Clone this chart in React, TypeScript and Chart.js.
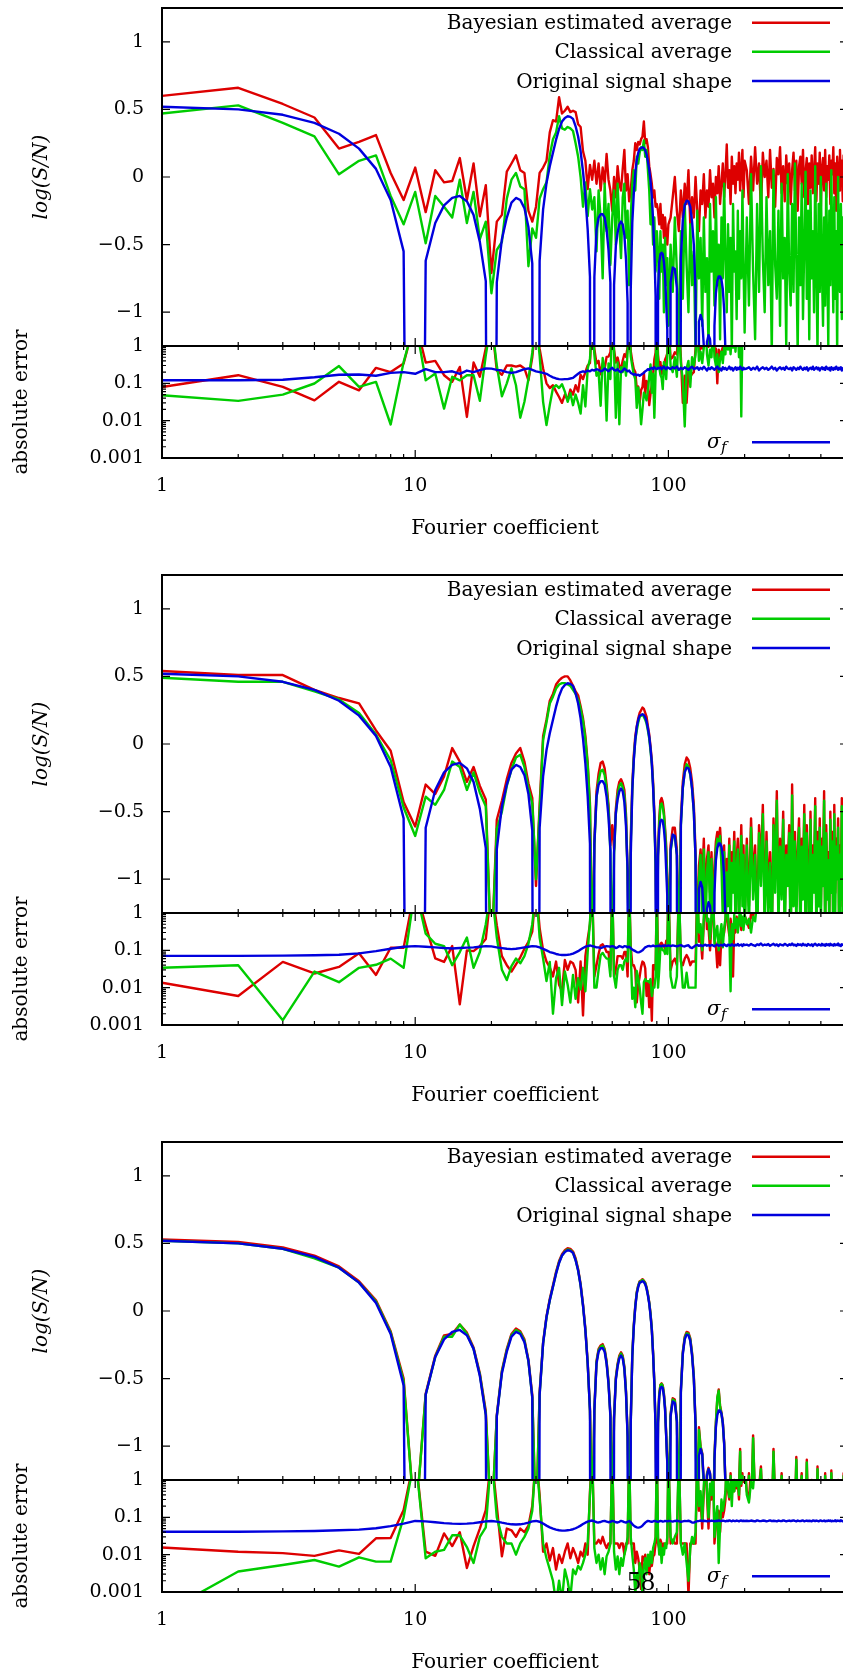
import React, { useEffect, useRef } from 'react';
import { Chart, registerables } from 'chart.js';

Chart.register(...registerables);

const RED = '#dd0000';
const GREEN = '#00cc00';
const BLUE = '#0000dd';
const FONT = "'DejaVu Serif', serif";

// Fourier coefficient indices used for the sampled series
const COEFFS: number[] = [
  ...Array.from({ length: 100 }, (_, i) => i + 1),
  ...Array.from({ length: 50 }, (_, i) => 102 + 2 * i),
  ...Array.from({ length: 78 }, (_, i) => 204 + 4 * i),
];
const X_MIN = 1;
const X_MAX = 512;
const X_TICKS = [1, 10, 100];
const X_TICK_LABELS = ['1', '10', '100'];
const UPPER_Y_TICKS = [-1, -0.5, 0, 0.5, 1];
const UPPER_Y_LABELS = ['\u22121', '\u22120.5', '0', '0.5', '1'];
const LOWER_Y_TICKS = [0.001, 0.01, 0.1, 1];
const LOWER_Y_LABELS = ['0.001', '0.01', '0.1', '1'];
const LEGEND_UPPER = ['Bayesian estimated average', 'Classical average', 'Original signal shape'];
const SIGMA_LABEL = 'σ_f';
const PAGE_NUMBER = '58';

// Original signal shape, log(S/N)  (k = 1..100, then 102..170 step 2)
const SIGNAL = [
  0.52, 0.50, 0.46, 0.40, 0.32, 0.21, 0.06, -0.17, -0.55, -10,
  -0.62, -0.34, -0.21, -0.155, -0.14, -0.18, -0.28, -0.48, -0.77, -10,
  -0.78, -0.46, -0.30, -0.19, -0.155, -0.17, -0.23, -0.37, -0.64, -10,
  -0.62, -0.24, -0.045, 0.08, 0.18, 0.276, 0.355, 0.41, 0.437, 0.449,
  0.445, 0.43, 0.375, 0.30, 0.19, 0.04, -0.145, -0.39, -0.74, -10,
  -0.74, -0.39, -0.30, -0.275, -0.275, -0.30, -0.39, -0.54, -0.78, -10,
  -0.80, -0.51, -0.41, -0.35, -0.33, -0.35, -0.43, -0.61, -0.93, -10,
  -0.83, -0.34, -0.12, 0.03, 0.128, 0.178, 0.21, 0.214, 0.22, 0.214,
  0.197, 0.165, 0.115, 0.054, -0.033, -0.144, -0.32, -0.54, -0.88, -10,
  -0.83, -0.63, -0.57, -0.56, -0.57, -0.63, -0.73, -0.93, -1.13, -10,
  -0.78, -0.67, -0.68, -0.82, -10,
  -0.60, -0.32, -0.21, -0.175, -0.18, -0.22, -0.33, -0.50, -0.85, -10,
  -1.07, -1.02, -1.06, -1.25, -10,
  -1.22, -1.17, -1.20, -1.35, -10,
  -1.10, -0.86, -0.77, -0.735, -0.735, -0.76, -0.83, -0.98, -1.30, -10,
];

// ---------- Panel 1 ----------
const BAYES_1 = [
  0.60, 0.66, 0.54, 0.44, 0.21, 0.26, 0.31, 0.03, -0.17, 0.07,
  -0.26, 0.05, -0.04, -0.03, 0.14, -0.17, 0.10, -0.29, -0.06, -0.71,
  -0.33, -0.28, 0.04, 0.10, 0.16, 0.05, 0.03, -0.25, -0.33, -0.22,
  0.03, 0.07, 0.12, 0.33, 0.42, 0.41, 0.59, 0.47, 0.49, 0.52,
  0.48, 0.49, 0.48, 0.39, 0.37, 0.19, 0.12, -0.09, 0.09, -0.02,
  0.12, -0.05, 0.10, -0.10, 0.07, -0.05, 0.17, -0.02, -0.10, -0.25,
  0.00, -0.15, 0.08, -0.05, -0.10, 0.06, 0.20, -0.10, 0.02, -0.18,
  -0.10, 0.05, 0.12, 0.25, 0.20, 0.26, 0.24, 0.28, 0.30, 0.41,
  0.25, 0.28, 0.22, 0.08, 0.02, -0.05, -0.15, -0.10, -0.22, -0.20,
  -0.25, -0.35, -0.20, -0.38, -0.28, -0.45, -0.30, -0.42, -0.50, -0.35,
  -0.30, -0.15, 0.00, -0.25, -0.40, -0.10, -0.30, -0.05, -0.20, 0.05,
  -0.35, -0.15, -0.30, 0.00, -0.25, -0.40, -0.10, -0.20, 0.02, -0.30,
  -0.10, -0.22, 0.05, -0.15, -0.05, -0.30, 0.00, -0.12, 0.08, -0.20,
  -0.05, 0.10, -0.15, 0.02, 0.24, -0.08, 0.05, -0.20, 0.15, -0.05,
  0.08, -0.12, 0.10, -0.02, 0.18, -0.10, 0.05, 0.20, -0.15, 0.12,
  0.05, -0.20, 0.15, -0.10, 0.22, -0.05, 0.10, -0.25, 0.18, 0.00,
  0.12, -0.15, 0.20, -0.08, 0.06, -0.22, 0.14, 0.02, 0.22, -0.12,
  0.08, -0.18, 0.16, -0.05, 0.10, -0.20, 0.05, 0.18, -0.10, 0.12,
  -0.25, 0.08, 0.15, -0.05, 0.20, -0.15, 0.04, 0.14, -0.20, 0.10,
  -0.08, 0.16, -0.12, 0.05, 0.22, -0.18, 0.10, -0.05, 0.18, -0.22,
  0.06, 0.14, -0.10, 0.20, -0.15, 0.08, -0.02, 0.16, -0.20, 0.12,
  0.02, 0.22, -0.12, 0.10, -0.25, 0.15, 0.05, -0.10, 0.20, -0.05,
  0.12, -0.18, 0.16, 0.00, 0.24, -0.10, 0.08, 0.18,
];
const CLASSIC_1 = [
  0.47, 0.53, 0.40, 0.30, 0.02, 0.12, 0.16, -0.14, -0.35, -0.11,
  -0.49, -0.14, -0.22, -0.30, -0.02, -0.34, -0.11, -0.46, -0.33, -0.86,
  -0.54, -0.48, -0.16, -0.02, 0.03, -0.07, -0.09, -0.66, -0.38, -0.45,
  -0.16, -0.09, -0.04, 0.16, 0.28, 0.33, 0.45, 0.36, 0.35, 0.37,
  0.36, 0.34, 0.25, 0.15, 0.00, -0.22, -0.04, -0.29, -0.09, -0.24,
  -0.15, -0.55, -0.10, -0.30, -0.75, -0.05, -0.40, -0.20, -0.65, -0.30,
  -0.10, -0.50, -0.05, -0.35, -0.60, -0.15, -0.05, -0.45, -0.25, -0.80,
  -0.30, -0.05, 0.05, -0.10, 0.15, 0.10, 0.18, 0.22, 0.20, 0.27,
  0.15, 0.20, 0.05, -0.10, -0.35, -0.20, -0.50, -0.30, -0.70, -0.40,
  -0.55, -0.90, -0.40, -0.70, -0.50, -1.00, -0.45, -0.80, -0.60, -1.10,
  -0.50, -0.85, -0.30, -0.70, -1.30, -0.40, -0.90, -0.20, -0.65, -1.00,
  -0.35, -0.80, -0.55, -1.30, -0.25, -0.75, -0.45, -1.10, -0.30, -0.85,
  -0.60, -1.30, -0.20, -0.70, -0.40, -0.95, -0.15, -0.80, -0.50, -1.20,
  -0.30, -0.75, -0.05, -0.60, -1.00, -0.35, -0.85, -0.45, -1.30, -0.20,
  -0.70, -0.55, -1.05, -0.25, -0.90, -0.40, -0.75, -0.10, -0.65, -1.15,
  -0.30, -0.95, 0.02, -0.70, -1.20, -0.20, -0.85, 0.08, -0.60, -1.00,
  -0.15, -0.80, -0.40, -1.30, 0.05, -0.65, -0.90, -0.25, -1.10, -0.05,
  -0.75, -0.45, -1.25, 0.02, -0.70, -0.95, -0.20, -0.85, 0.10, -0.60,
  -1.30, -0.30, -0.80, -0.05, -1.05, -0.50, 0.04, -0.90, -0.25, -1.20,
  -0.10, -0.75, -0.40, -1.00, 0.08, -0.65, -1.30, -0.20, -0.85, 0.00,
  -0.70, -1.10, -0.30, -0.95, -0.05, -0.60, -1.25, -0.25, -0.80, 0.05,
  -0.55, -1.00, -0.15, -0.90, -0.40, -1.30, 0.00, -0.70, -0.85, -0.20,
  -1.05, -0.30, -0.75, 0.08, -0.95, -0.45, -1.20, -0.15,
];
const BAYES_ERR_1 = [
  0.080, 0.165, 0.080, 0.035, 0.11, 0.065, 0.26, 0.20, 0.34, 5,
  0.36, 0.40, 0.165, 0.11, 0.275, 0.0126, 0.36, 0.15, 0.87, 5,
  0.22, 0.17, 0.30, 0.30, 0.28, 0.30, 0.25, 0.12, 0.50, 5,
  0.85, 0.25, 0.10, 0.075, 0.089, 0.06, 0.043, 0.03, 0.05, 0.037,
  0.068, 0.05, 0.089, 0.06, 0.17, 0.13, 0.20, 0.30, 0.35, 5,
  0.84, 0.34, 0.40, 0.175, 0.345, 0.25, 0.51, 0.52, 0.68, 5,
  0.80, 0.36, 0.49, 0.30, 0.23, 0.41, 0.60, 0.51, 0.95, 5,
  0.73, 0.39, 0.24, 0.20, 0.072, 0.082, 0.03, 0.066, 0.08, 0.196,
  0.053, 0.115, 0.105, 0.026, 0.053, 0.094, 0.17, 0.44, 0.66, 5,
  0.58, 0.28, 0.37, 0.18, 0.29, 0.18, 0.43, 0.51, 0.63, 5,
  0.45, 0.50, 0.68, 0.60, 5,
  0.50, 0.03, 0.16, 0.03, 0.23, 0.15, 0.18, 0.20, 0.85, 5,
  0.67, 0.92, 0.86, 1.27, 5,
  1.10, 0.95, 1.25, 1.20, 5,
  0.80, 0.86, 0.10, 0.80, 0.54, 0.71, 0.93, 0.83, 1.32, 5,
  5,
];
const CLASSIC_ERR_1 = [
  0.048, 0.034, 0.050, 0.099, 0.29, 0.080, 0.109, 0.0079, 0.37, 5,
  0.12, 0.183, 0.021, 0.15, 0.12, 0.165, 0.165, 0.034, 0.56, 5,
  0.30, 0.045, 0.10, 0.25, 0.089, 0.012, 0.032, 0.13, 0.66, 5,
  0.55, 0.032, 0.0076, 0.026, 0.075, 0.089, 0.075, 0.095, 0.06, 0.032,
  0.055, 0.026, 0.05, 0.03, 0.0155, 0.089, 0.024, 0.25, 0.45, 5,
  0.59, 0.16, 0.20, 0.025, 0.475, 0.25, 0.01, 0.34, 0.13, 5,
  0.70, 0.012, 0.36, 0.008, 0.27, 0.20, 0.38, 0.16, 0.68, 5,
  0.53, 0.29, 0.17, 0.13, 0.022, 0.078, 0.03, 0.008, 0.02, 0.056,
  0.047, 0.035, 0.065, 0.154, 0.32, 0.056, 0.18, 0.012, 0.18, 5,
  0.28, 0.27, 0.17, 0.14, 0.07, 0.37, 0.28, 0.13, 0.53, 5,
  0.30, 0.20, 0.50, 0.15, 5,
  0.35, 0.12, 0.007, 0.25, 0.40, 0.08, 0.50, 0.30, 0.60, 5,
  0.40, 0.70, 0.35, 0.90, 5,
  0.60, 0.30, 0.80, 0.50, 5,
  0.50, 0.30, 0.60, 0.20, 0.45, 0.70, 0.35, 0.90, 0.60, 5,
  0.80, 2, 0.60, 2, 0.90, 3, 0.70, 2, 3, 0.50, 3, 0.013, 3, 2, 5,
];
const SIGMA_1 = [
  0.121, 0.121, 0.125, 0.145, 0.17, 0.172, 0.16, 0.19, 0.20, 0.18,
  0.24, 0.20, 0.20, 0.21, 0.18, 0.22, 0.20, 0.225, 0.25, 0.248,
  0.23, 0.22, 0.20, 0.19, 0.20, 0.22, 0.24, 0.25, 0.23, 0.21,
  0.20, 0.19, 0.18, 0.16, 0.145, 0.135, 0.13, 0.128, 0.13, 0.13,
  0.135, 0.14, 0.16, 0.18, 0.20, 0.21, 0.20, 0.22, 0.21, 0.23,
  0.22, 0.24, 0.23, 0.21, 0.22, 0.25, 0.23, 0.21, 0.24, 0.26,
  0.23, 0.22, 0.24, 0.21, 0.20, 0.22, 0.25, 0.23, 0.21, 0.22,
  0.19, 0.18, 0.17, 0.175, 0.165, 0.17, 0.16, 0.17, 0.18, 0.19,
  0.21, 0.22, 0.24, 0.23, 0.25, 0.26, 0.24, 0.27, 0.25, 0.24,
  0.26, 0.25, 0.27, 0.24, 0.26, 0.28, 0.25, 0.24, 0.27, 0.26,
  0.24, 0.27, 0.25, 0.28, 0.23, 0.26, 0.24, 0.27, 0.25, 0.23,
  0.26, 0.28, 0.24, 0.25, 0.27, 0.23, 0.26, 0.24, 0.28, 0.25,
  0.22, 0.26, 0.24, 0.27, 0.25, 0.23, 0.26, 0.28, 0.24, 0.25,
  0.22, 0.27, 0.24, 0.26, 0.23, 0.25, 0.28, 0.24, 0.26, 0.22,
  0.25, 0.27, 0.23, 0.26, 0.24, 0.28, 0.25, 0.23, 0.26, 0.24,
  0.25, 0.27, 0.23, 0.26, 0.24, 0.28, 0.22, 0.25, 0.27, 0.24,
  0.26, 0.23, 0.25, 0.28, 0.24, 0.26, 0.22, 0.25, 0.27, 0.24,
  0.26, 0.23, 0.28, 0.25, 0.24, 0.26, 0.22, 0.27, 0.25, 0.23,
  0.26, 0.24, 0.28, 0.25, 0.23, 0.26, 0.24, 0.27, 0.22, 0.25,
  0.26, 0.24, 0.28, 0.23, 0.25, 0.27, 0.24, 0.26, 0.22, 0.25,
  0.27, 0.24, 0.26, 0.23, 0.28, 0.25, 0.24, 0.26, 0.22, 0.27,
  0.25, 0.23, 0.26, 0.24, 0.28, 0.25, 0.23, 0.26, 0.24, 0.27,
  0.22, 0.25, 0.26, 0.24, 0.28, 0.23, 0.25, 0.26,
];

// ---------- Panel 2 ----------
const BAYES_2 = [
  0.54, 0.51, 0.51, 0.40, 0.34, 0.30, 0.10, -0.05, -0.43, -0.61,
  -0.30, -0.37, -0.24, -0.03, -0.13, -0.28, -0.17, -0.31, -0.41, -1.60,
  -0.56, -0.42, -0.26, -0.14, -0.07, -0.03, -0.13, -0.29, -0.40, -1.05,
  -0.45, 0.06, 0.18, 0.32, 0.37, 0.44, 0.47, 0.49, 0.50, 0.50,
  0.47, 0.43, 0.39, 0.36, 0.28, 0.19, 0.06, -0.14, -0.44, -1.60,
  -0.72, -0.35, -0.22, -0.14, -0.13, -0.18, -0.30, -0.45, -0.75, -0.60,
  -0.78, -0.48, -0.34, -0.28, -0.26, -0.29, -0.34, -0.52, -0.95, -1.60,
  -0.70, -0.30, -0.08, 0.06, 0.13, 0.19, 0.23, 0.25, 0.27, 0.26,
  0.23, 0.20, 0.13, 0.07, -0.02, -0.12, -0.28, -0.50, -0.85, -1.60,
  -0.78, -0.55, -0.42, -0.40, -0.43, -0.50, -0.62, -0.75, -1.00, -1.60,
  -0.75, -0.62, -0.62, -0.78, -1.60,
  -0.55, -0.28, -0.15, -0.10, -0.12, -0.18, -0.28, -0.45, -0.80, -1.50,
  -0.90, -0.78, -1.00, -0.70, -1.20,
  -0.85, -0.75, -1.10, -0.80, -1.30,
  -0.90, -0.72, -0.65, -0.70, -0.62, -0.80, -1.10, -0.75, -1.30, -0.85,
  -1.00, -0.70, -1.20, -0.80, -0.95, -0.65, -1.15, -0.85, -0.70, -1.25, -0.90, -0.60, -1.00, -0.75, -1.30,
  -0.70, -1.20, -0.55, -1.00, -0.75, -1.35, -0.60, -0.90, -0.45, -1.25,
  -0.65, -1.10, -0.80, -1.40, -0.55, -0.95, -0.35, -1.20, -0.70, -1.00,
  -0.50, -1.30, -0.75, -0.90, -0.60, -1.45, -0.30, -1.05, -0.65, -1.20,
  -0.80, -0.55, -1.35, -0.70, -1.00, -0.45, -1.25, -0.60, -0.85, -1.40,
  -0.50, -1.10, -0.75, -0.95, -0.40, -1.30, -0.65, -1.05, -0.55, -1.20,
  -0.70, -0.90, -0.35, -1.35, -0.60, -1.00, -0.80, -1.25, -0.50, -0.95,
  -0.65, -1.40, -0.45, -1.10, -0.70, -0.85, -0.55, -1.30, -0.75, -1.00,
  -0.40, -1.20, -0.65, -0.90, -0.50, -1.35, -0.70, -1.05,
];
const CLASSIC_2 = [
  0.49, 0.46, 0.46, 0.39, 0.33, 0.23, 0.07, -0.12, -0.47, -0.68,
  -0.39, -0.45, -0.34, -0.13, -0.17, -0.34, -0.21, -0.36, -0.46, -1.60,
  -0.63, -0.50, -0.31, -0.19, -0.10, -0.08, -0.17, -0.33, -0.44, -1.00,
  -0.50, 0.03, 0.16, 0.30, 0.35, 0.41, 0.44, 0.45, 0.45, 0.44,
  0.43, 0.40, 0.37, 0.33, 0.26, 0.17, 0.03, -0.16, -0.47, -1.60,
  -0.75, -0.40, -0.27, -0.20, -0.19, -0.23, -0.33, -0.48, -0.80, -1.60,
  -0.82, -0.52, -0.38, -0.31, -0.29, -0.32, -0.38, -0.55, -0.98, -1.60,
  -0.75, -0.34, -0.11, 0.03, 0.10, 0.16, 0.20, 0.21, 0.22, 0.20,
  0.18, 0.15, 0.10, 0.04, -0.05, -0.15, -0.31, -0.55, -0.90, -1.60,
  -0.82, -0.60, -0.45, -0.44, -0.47, -0.53, -0.65, -0.80, -1.05, -1.60,
  -0.80, -0.68, -0.68, -0.82, -1.60,
  -0.60, -0.33, -0.20, -0.15, -0.17, -0.23, -0.33, -0.50, -0.85, -1.60,
  -1.00, -0.82, -1.30, -0.78, -1.40,
  -0.95, -0.80, -1.25, -0.85, -1.50,
  -1.00, -0.78, -0.70, -0.75, -0.68, -0.90, -1.30, -0.80, -1.50, -0.95,
  -1.20, -0.75, -1.40, -0.88, -1.10, -0.72, -1.35, -0.92, -0.78, -1.45, -1.00, -0.68, -1.20, -0.82, -1.50,
  -0.75, -1.35, -0.62, -1.15, -0.82, -1.50, -0.66, -1.05, -0.52, -1.40,
  -0.72, -1.25, -0.88, -1.55, -0.60, -1.10, -0.42, -1.35, -0.76, -1.15,
  -0.56, -1.45, -0.82, -1.05, -0.66, -1.60, -0.38, -1.20, -0.72, -1.35,
  -0.86, -0.62, -1.50, -0.76, -1.15, -0.52, -1.40, -0.66, -1.00, -1.55,
  -0.56, -1.25, -0.82, -1.10, -0.46, -1.45, -0.72, -1.20, -0.62, -1.35,
  -0.76, -1.05, -0.42, -1.50, -0.66, -1.15, -0.86, -1.40, -0.56, -1.10,
  -0.72, -1.55, -0.52, -1.25, -0.76, -1.00, -0.62, -1.45, -0.82, -1.15,
  -0.46, -1.35, -0.72, -1.05, -0.56, -1.50, -0.76, -1.20,
];
const BAYES_ERR_2 = [
  0.0135, 0.006, 0.049, 0.024, 0.036, 0.083, 0.022, 0.117, 0.117, 5,
  0.47, 0.061, 0.049, 0.13, 0.0036, 0.10, 0.095, 0.13, 0.20, 5,
  0.47, 0.07, 0.04, 0.027, 0.042, 0.065, 0.11, 0.17, 0.32, 5,
  0.40, 0.10, 0.05, 0.035, 0.02, 0.05, 0.012, 0.008, 0.055, 0.03,
  0.05, 0.045, 0.03, 0.004, 0.05, 0.0018, 0.07, 0.20, 0.50, 5,
  0.02, 0.04, 0.08, 0.135, 0.145, 0.12, 0.09, 0.09, 0.03, 5,
  0.02, 0.03, 0.07, 0.07, 0.07, 0.06, 0.09, 0.09, 0.02, 5,
  0.13, 0.04, 0.04, 0.03, 0.004, 0.012, 0.02, 0.036, 0.05, 0.046,
  0.033, 0.006, 0.015, 0.003, 0.013, 0.0013, 0.04, 0.04, 0.03, 5,
  0.05, 0.08, 0.15, 0.16, 0.14, 0.13, 0.11, 0.18, 0.13, 5,
  0.03, 0.05, 0.06, 0.04, 5,
  0.05, 0.04, 0.06, 0.075, 0.06, 0.04, 0.05, 0.05, 0.05, 5,
  0.17, 0.24, 0.06, 0.55, 5,
  0.37, 0.42, 0.10, 0.55, 5,
  0.20, 0.14, 0.035, 0.115, 0.04, 0.27, 0.23, 0.30, 0.60, 5,
  0.45, 0.25, 0.70, 0.35, 0.02, 0.60, 0.30, 0.80, 0.40, 0.55, 0.90, 0.35, 0.65, 0.50, 0.85,
  0.60, 0.40, 0.95, 0.70, 3, 5,
];
const CLASSIC_ERR_2 = [
  0.034, 0.04, 0.00135, 0.027, 0.014, 0.034, 0.041, 0.06, 0.034, 5,
  0.28, 0.15, 0.13, 0.04, 0.09, 0.22, 0.034, 0.09, 0.50, 5,
  0.22, 0.03, 0.016, 0.038, 0.06, 0.045, 0.07, 0.15, 0.50, 5,
  0.22, 0.06, 0.015, 0.049, 0.002, 0.018, 0.034, 0.0034, 0.027, 0.012,
  0.004, 0.022, 0.005, 0.018, 0.009, 0.034, 0.008, 0.09, 0.60, 5,
  0.01, 0.01, 0.03, 0.075, 0.085, 0.07, 0.06, 0.06, 0.02, 5,
  0.02, 0.01, 0.03, 0.04, 0.04, 0.03, 0.05, 0.06, 0.05, 5,
  0.08, 0.005, 0.01, 0.003, 0.028, 0.018, 0.01, 0.004, 0.002, 0.014,
  0.017, 0.015, 0.015, 0.014, 0.017, 0.006, 0.01, 0.01, 0.02, 5,
  0.01, 0.03, 0.12, 0.12, 0.10, 0.10, 0.08, 0.13, 0.08, 5,
  0.02, 0.01, 0.01, 0.02, 5,
  0.06, 0.01, 0.01, 0.025, 0.01, 0.01, 0.01, 0.01, 0.01, 5,
  0.30, 0.50, 0.10, 0.80, 5,
  0.60, 0.70, 0.20, 0.85, 5,
  0.15, 0.30, 0.45, 0.10, 0.25, 0.50, 0.12, 0.40, 0.70, 5,
  0.80, 0.30, 0.008, 0.50, 0.20, 0.90, 0.40, 0.70, 0.30, 0.60, 1.50, 0.45, 0.80, 0.35, 0.90,
  0.50, 0.70, 0.30, 0.80, 0.60, 2, 5,
];
const SIGMA_2 = [
  0.071, 0.071, 0.072, 0.074, 0.076, 0.083, 0.095, 0.11, 0.125, 0.13,
  0.125, 0.12, 0.115, 0.112, 0.115, 0.118, 0.12, 0.125, 0.13, 0.128,
  0.12, 0.115, 0.11, 0.108, 0.11, 0.115, 0.12, 0.125, 0.13, 0.128,
  0.12, 0.11, 0.10, 0.09, 0.085, 0.08, 0.077, 0.075, 0.075, 0.076,
  0.078, 0.082, 0.088, 0.095, 0.105, 0.115, 0.125, 0.13, 0.135, 0.13,
  0.125, 0.12, 0.12, 0.115, 0.12, 0.125, 0.13, 0.128, 0.125, 0.13,
  0.125, 0.115, 0.12, 0.13, 0.125, 0.12, 0.13, 0.128, 0.12, 0.125,
  0.115, 0.105, 0.10, 0.095, 0.09, 0.088, 0.09, 0.095, 0.10, 0.11,
  0.12, 0.125, 0.13, 0.132, 0.128, 0.13, 0.135, 0.13, 0.128, 0.132,
  0.13, 0.135, 0.13, 0.128, 0.134, 0.13, 0.136, 0.13, 0.132, 0.135,
  0.13, 0.136, 0.132, 0.128, 0.134, 0.138, 0.13, 0.127, 0.133, 0.137,
  0.12, 0.115, 0.125, 0.135, 0.14, 0.132, 0.138, 0.13, 0.136, 0.142,
  0.133, 0.138, 0.13, 0.14, 0.135, 0.128, 0.138, 0.143, 0.132, 0.137,
  0.14, 0.133, 0.145, 0.136, 0.13, 0.142, 0.138, 0.134, 0.146, 0.137,
  0.132, 0.141, 0.136, 0.148, 0.134, 0.139, 0.143, 0.131, 0.145, 0.138,
  0.142, 0.134, 0.148, 0.137, 0.131, 0.145, 0.139, 0.152, 0.135, 0.143,
  0.138, 0.147, 0.132, 0.141, 0.15, 0.136, 0.144, 0.13, 0.146, 0.139,
  0.135, 0.149, 0.141, 0.133, 0.145, 0.138, 0.152, 0.136, 0.142, 0.131,
  0.147, 0.139, 0.144, 0.135, 0.15, 0.137, 0.142, 0.133, 0.148, 0.14,
  0.136, 0.145, 0.131, 0.143, 0.151, 0.138, 0.134, 0.146, 0.14, 0.135,
  0.149, 0.137, 0.143, 0.132, 0.147, 0.139, 0.145, 0.134, 0.15, 0.138,
  0.141, 0.133, 0.148, 0.136, 0.144, 0.139, 0.152, 0.135, 0.142, 0.131,
  0.146, 0.14, 0.137, 0.149, 0.134, 0.143, 0.138, 0.145,
];

// ---------- Panel 3 ----------
const BAYES_3 = [
  0.53, 0.51, 0.47, 0.41, 0.33, 0.22, 0.08, -0.15, -0.50, -1.60,
  -0.61, -0.33, -0.18, -0.17, -0.10, -0.16, -0.27, -0.46, -0.74, -1.60,
  -0.77, -0.44, -0.28, -0.17, -0.13, -0.15, -0.21, -0.36, -0.62, -1.60,
  -0.60, -0.23, -0.04, 0.09, 0.19, 0.29, 0.37, 0.42, 0.45, 0.465,
  0.46, 0.44, 0.39, 0.31, 0.20, 0.05, -0.13, -0.38, -0.72, -1.60,
  -0.72, -0.37, -0.28, -0.255, -0.245, -0.28, -0.37, -0.52, -0.76, -1.60,
  -0.78, -0.49, -0.39, -0.33, -0.305, -0.33, -0.41, -0.59, -0.91, -1.60,
  -0.81, -0.32, -0.10, 0.04, 0.14, 0.19, 0.22, 0.225, 0.235, 0.225,
  0.21, 0.175, 0.125, 0.065, -0.02, -0.13, -0.31, -0.53, -0.86, -1.60,
  -0.81, -0.61, -0.545, -0.535, -0.55, -0.61, -0.71, -0.91, -1.11, -1.60,
  -0.76, -0.645, -0.655, -0.80, -1.60,
  -0.58, -0.30, -0.19, -0.155, -0.16, -0.20, -0.31, -0.48, -0.83, -1.60,
  -0.86, -1.00, -1.05, -1.30, -1.60,
  -1.20, -1.16, -1.20, -1.40, -1.60,
  -1.08, -0.82, -0.65, -0.58, -0.70, -0.75, -0.82, -0.97, -1.28, -1.60,
  -1.30, -1.55, -1.20, -1.45, -1.60, -1.25, -1.50, -1.40, -1.55, -1.30, -1.02, -1.60, -1.20, -1.45, -1.35,
  -1.45, -1.20, -1.55, -0.92, -1.40, -1.60, -1.30, -1.15, -1.50, -1.35,
  -1.60, -1.25, -1.45, -1.55, -1.02, -1.40, -1.60, -1.30, -1.50, -1.20,
  -1.45, -1.60, -1.35, -1.25, -1.55, -1.40, -1.60, -1.30, -1.50, -1.08,
  -1.45, -1.60, -1.35, -1.20, -1.55, -1.40, -1.60, -1.10, -1.50, -1.35,
  -1.60, -1.25, -1.45, -1.55, -1.40, -1.60, -1.15, -1.50, -1.35, -1.60,
  -1.30, -1.45, -1.55, -1.20, -1.60, -1.40, -1.50, -1.35, -1.60, -1.18,
  -1.45, -1.55, -1.30, -1.60, -1.40, -1.50, -1.25, -1.60, -1.45, -1.35,
  -1.55, -1.60, -1.20, -1.45, -1.50, -1.60, -1.30, -1.40,
];
const CLASSIC_3 = [
  0.52, 0.50, 0.46, 0.39, 0.32, 0.21, 0.07, -0.16, -0.52, -1.60,
  -0.62, -0.34, -0.19, -0.19, -0.10, -0.17, -0.28, -0.47, -0.76, -1.60,
  -0.78, -0.45, -0.29, -0.18, -0.14, -0.16, -0.22, -0.37, -0.64, -1.60,
  -0.62, -0.24, -0.05, 0.08, 0.18, 0.28, 0.36, 0.41, 0.44, 0.455,
  0.45, 0.43, 0.38, 0.30, 0.19, 0.04, -0.14, -0.39, -0.74, -1.60,
  -0.73, -0.38, -0.29, -0.265, -0.255, -0.29, -0.38, -0.53, -0.77, -1.60,
  -0.79, -0.50, -0.40, -0.34, -0.315, -0.34, -0.42, -0.60, -0.92, -1.60,
  -0.82, -0.33, -0.11, 0.035, 0.135, 0.185, 0.215, 0.22, 0.23, 0.22,
  0.205, 0.17, 0.12, 0.06, -0.025, -0.135, -0.315, -0.535, -0.87, -1.60,
  -0.82, -0.62, -0.55, -0.54, -0.555, -0.62, -0.72, -0.92, -1.12, -1.60,
  -0.77, -0.655, -0.665, -0.81, -1.60,
  -0.59, -0.31, -0.20, -0.165, -0.17, -0.21, -0.32, -0.49, -0.84, -1.60,
  -0.88, -1.01, -1.06, -1.32, -1.60,
  -1.21, -1.17, -1.21, -1.42, -1.60,
  -1.09, -0.83, -0.64, -0.59, -0.71, -0.76, -0.83, -0.98, -1.29, -1.60,
  -1.32, -1.57, -1.22, -1.47, -1.62, -1.27, -1.52, -1.42, -1.57, -1.32, -1.04, -1.62, -1.22, -1.47, -1.37,
  -1.47, -1.22, -1.57, -0.94, -1.42, -1.62, -1.32, -1.17, -1.52, -1.37,
  -1.62, -1.27, -1.47, -1.57, -1.04, -1.42, -1.62, -1.32, -1.52, -1.22,
  -1.47, -1.62, -1.37, -1.27, -1.57, -1.42, -1.62, -1.32, -1.52, -1.10,
  -1.47, -1.62, -1.37, -1.22, -1.57, -1.42, -1.62, -1.12, -1.52, -1.37,
  -1.62, -1.27, -1.47, -1.57, -1.42, -1.62, -1.17, -1.52, -1.37, -1.62,
  -1.32, -1.47, -1.57, -1.22, -1.62, -1.42, -1.52, -1.37, -1.62, -1.20,
  -1.47, -1.57, -1.32, -1.62, -1.42, -1.52, -1.27, -1.62, -1.47, -1.37,
  -1.57, -1.62, -1.22, -1.47, -1.52, -1.62, -1.32, -1.42,
];
const BAYES_ERR_3 = [
  0.0155, 0.012, 0.011, 0.0093, 0.013, 0.0105, 0.0275, 0.028, 0.157, 5,
  0.012, 0.0093, 0.037, 0.017, 0.04, 0.0044, 0.017, 0.05, 0.157, 5,
  0.2, 0.009, 0.05, 0.045, 0.03, 0.05, 0.04, 0.06, 0.2, 5,
  0.4, 0.012, 0.02, 0.007, 0.015, 0.004, 0.01, 0.006, 0.012, 0.02,
  0.008, 0.015, 0.01, 0.006, 0.012, 0.009, 0.02, 0.01, 0.5, 5,
  0.02, 0.02, 0.025, 0.02, 0.03, 0.02, 0.015, 0.02, 0.02, 5,
  0.02, 0.02, 0.02, 0.015, 0.02, 0.02, 0.01, 0.02, 0.02, 5,
  0.02, 0.02, 0.02, 0.006, 0.012, 0.008, 0.004, 0.0012, 0.009, 0.007,
  0.01, 0.005, 0.008, 0.003, 0.007, 0.005, 0.009, 0.01, 0.02, 5,
  0.02, 0.015, 0.025, 0.02, 0.012, 0.02, 0.018, 0.02, 0.02, 5,
  0.02, 0.025, 0.02, 0.02, 5,
  0.02, 0.02, 0.02, 0.02, 0.0008, 0.02, 0.02, 0.02, 0.02, 5,
  0.15, 0.3, 0.05, 0.5, 5,
  0.4, 0.05, 0.6, 0.3, 5,
  0.02, 0.06, 0.15, 0.15, 0.04, 0.2, 0.1, 0.15, 0.3, 5,
  0.5, 0.3, 0.8, 0.4, 0.9, 0.5, 1.5, 0.6, 0.8, 0.3, 2, 0.7, 1.5, 0.9, 3,
  0.5, 0.3, 2, 5,
];
const CLASSIC_ERR_3 = [
  0.00026, 0.00355, 0.0053, 0.0072, 0.0048, 0.0085, 0.0065, 0.0065, 0.1, 5,
  0.008, 0.012, 0.0135, 0.033, 0.033, 0.016, 0.006, 0.03, 0.054, 5,
  0.1, 0.03, 0.02, 0.02, 0.01, 0.02, 0.03, 0.05, 0.15, 5,
  0.3, 0.02, 0.008, 0.004, 0.002, 0.0005, 0.002, 0.0006, 0.004, 0.002,
  0.0007, 0.004, 0.003, 0.005, 0.004, 0.006, 0.01, 0.02, 0.4, 5,
  0.015, 0.006, 0.01, 0.004, 0.008, 0.003, 0.009, 0.012, 0.02, 5,
  0.012, 0.004, 0.009, 0.003, 0.008, 0.005, 0.01, 0.015, 0.03, 5,
  0.03, 0.01, 0.004, 0.0009, 0.003, 0.002, 0.006, 0.004, 0.0008, 0.005,
  0.008, 0.003, 0.01, 0.005, 0.012, 0.006, 0.015, 0.02, 0.03, 5,
  0.03, 0.01, 0.02, 0.006, 0.015, 0.01, 0.02, 0.015, 0.03, 5,
  0.03, 0.02, 0.03, 0.04, 5,
  0.02, 0.01, 0.02, 0.006, 0.002, 0.015, 0.03, 0.02, 0.04, 5,
  0.2, 0.5, 0.08, 0.7, 5,
  0.5, 0.1, 0.8, 0.4, 5,
  0.03, 0.1, 0.2, 0.006, 0.06, 0.3, 0.15, 0.25, 0.5, 5,
  0.6, 0.35, 0.9, 0.2, 1.2, 0.5, 1.8, 0.7, 0.9, 0.4, 2, 0.8, 1.6, 1.0, 3,
  0.4, 0.25, 0.9, 0.6, 3, 5,
];
const SIGMA_3 = [
  0.041, 0.041, 0.042, 0.043, 0.045, 0.047, 0.051, 0.058, 0.068, 0.08,
  0.078, 0.074, 0.07, 0.068, 0.067, 0.068, 0.07, 0.074, 0.078, 0.08,
  0.077, 0.072, 0.068, 0.065, 0.064, 0.065, 0.068, 0.072, 0.078, 0.08,
  0.076, 0.068, 0.06, 0.054, 0.05, 0.047, 0.045, 0.044, 0.044, 0.045,
  0.046, 0.048, 0.051, 0.055, 0.06, 0.066, 0.072, 0.077, 0.08, 0.082,
  0.078, 0.074, 0.073, 0.075, 0.079, 0.08, 0.077, 0.074, 0.076, 0.08,
  0.078, 0.074, 0.073, 0.076, 0.08, 0.078, 0.074, 0.072, 0.076, 0.08,
  0.074, 0.066, 0.06, 0.056, 0.054, 0.053, 0.054, 0.056, 0.06, 0.066,
  0.072, 0.077, 0.08, 0.079, 0.077, 0.076, 0.078, 0.08, 0.079, 0.077,
  0.076, 0.078, 0.08, 0.079, 0.077, 0.078, 0.08, 0.079, 0.078, 0.08,
  0.079, 0.077, 0.08, 0.081, 0.079, 0.076, 0.078, 0.08, 0.079, 0.081,
  0.078, 0.073, 0.072, 0.076, 0.079, 0.08, 0.082, 0.079, 0.081, 0.08,
  0.078, 0.081, 0.079, 0.082, 0.08, 0.078, 0.081, 0.079, 0.083, 0.08,
  0.079, 0.082, 0.08, 0.078, 0.081, 0.079, 0.083, 0.08, 0.078, 0.082,
  0.08, 0.079, 0.082, 0.08, 0.078, 0.081, 0.083, 0.079, 0.081, 0.08,
  0.081, 0.079, 0.082, 0.08, 0.078, 0.083, 0.08, 0.079, 0.082, 0.081,
  0.078, 0.08, 0.083, 0.079, 0.081, 0.08, 0.078, 0.082, 0.08, 0.079,
  0.083, 0.081, 0.078, 0.08, 0.082, 0.079, 0.081, 0.083, 0.08, 0.078,
  0.082, 0.08, 0.079, 0.081, 0.083, 0.078, 0.08, 0.082, 0.079, 0.081,
  0.08, 0.078, 0.083, 0.081, 0.079, 0.082, 0.08, 0.078, 0.081, 0.083,
  0.079, 0.08, 0.082, 0.078, 0.081, 0.079, 0.083, 0.08, 0.082, 0.078,
  0.081, 0.079, 0.08, 0.083, 0.078, 0.082, 0.08, 0.081, 0.079, 0.083,
  0.08, 0.078, 0.082, 0.081, 0.079, 0.08, 0.082, 0.081,
];

const PANELS = [
  { top: 0, red: BAYES_1, green: CLASSIC_1, redErr: BAYES_ERR_1, greenErr: CLASSIC_ERR_1, sigma: SIGMA_1 },
  { top: 567, red: BAYES_2, green: CLASSIC_2, redErr: BAYES_ERR_2, greenErr: CLASSIC_ERR_2, sigma: SIGMA_2 },
  { top: 1134, red: BAYES_3, green: CLASSIC_3, redErr: BAYES_ERR_3, greenErr: CLASSIC_ERR_3, sigma: SIGMA_3 },
];

// layout (pixels)
const CANVAS_W = 860;
const PLOT_LEFT = 162;
const PLOT_RIGHT = 848;
const UPPER_TOP = 8;
const UPPER_BOTTOM = 346;
const UPPER_H = 360;
const LOWER_OFF = 320;
const LOWER_BOTTOM = 458;
const LOWER_H = 230;
const LEGEND_ROW_Y = [22.7, 51.7, 81];
const LINE_W = 2.4;

const X_MINOR: number[] = [];
[1, 10, 100].forEach((d) => { for (let m = 2; m <= 9; m++) if (d * m <= X_MAX) X_MINOR.push(d * m); });
const Y_MINOR: number[] = [];
[0.001, 0.01, 0.1].forEach((d) => { for (let m = 2; m <= 9; m++) Y_MINOR.push(d * m); });

const pts = (ys: number[]) => ys.slice(0, COEFFS.length).map((y, i) => ({ x: COEFFS[i], y }));

// order: higher value drawn first (underneath)
function series(label: string, ys: number[], color: string, order: number) {
  return {
    label, data: pts(ys), borderColor: color, backgroundColor: color, borderWidth: LINE_W,
    pointRadius: 0, pointHoverRadius: 0, fill: false, tension: 0, order,
    borderJoinStyle: 'round', borderCapStyle: 'round', clip: 0, spanGaps: true,
  };
}

function makeFrame(kind: 'upper' | 'lower', panel: number) {
  return {
    id: 'gpframe',
    afterDraw(chart: any) {
      const { ctx, chartArea: a } = chart;
      const xs = chart.scales.x;
      const ys = chart.scales.y;
      ctx.save();
      ctx.strokeStyle = '#000';
      ctx.lineWidth = 1.2;
      ctx.beginPath();
      const xt = (v: number, len: number) => {
        const px = xs.getPixelForValue(v);
        ctx.moveTo(px, a.bottom); ctx.lineTo(px, a.bottom - len);
        if (kind === 'lower') { ctx.moveTo(px, a.top); ctx.lineTo(px, a.top + len); }
      };
      X_TICKS.forEach((v) => xt(v, 8));
      X_MINOR.forEach((v) => xt(v, 4));
      const yt = (v: number, len: number) => {
        const py = ys.getPixelForValue(v);
        ctx.moveTo(a.left, py); ctx.lineTo(a.left + len, py);
        ctx.moveTo(a.right, py); ctx.lineTo(a.right - len, py);
      };
      (kind === 'upper' ? UPPER_Y_TICKS : LOWER_Y_TICKS).forEach((v) => yt(v, 8));
      if (kind === 'lower') Y_MINOR.forEach((v) => yt(v, 4));
      ctx.stroke();
      ctx.lineWidth = 2;
      ctx.strokeRect(a.left, a.top, a.right - a.left, a.bottom - a.top);

      ctx.fillStyle = '#000';
      ctx.textBaseline = 'alphabetic';
      if (kind === 'upper') {
        ctx.font = `20px ${FONT}`;
        ctx.textAlign = 'right';
        chart.data.datasets.forEach((d: any, i: number) => {
          const y = LEGEND_ROW_Y[i];
          ctx.fillText(d.label, 732, y + 6.6);
          ctx.strokeStyle = d.borderColor; ctx.lineWidth = LINE_W;
          ctx.beginPath(); ctx.moveTo(752, y); ctx.lineTo(830, y); ctx.stroke();
        });
      } else {
        const s = chart.data.datasets[2];
        const [sym, sub] = SIGMA_LABEL.split('_');
        ctx.textAlign = 'left';
        ctx.font = `italic 20px ${FONT}`;
        ctx.fillText(sym, 707, 128);
        ctx.font = `italic 15px ${FONT}`;
        ctx.fillText(sub, 721, 132);
        ctx.strokeStyle = s.borderColor; ctx.lineWidth = LINE_W;
        ctx.beginPath(); ctx.moveTo(752, 122.3); ctx.lineTo(830, 122.3); ctx.stroke();
        if (panel === 2) {
          ctx.fillStyle = '#000';
          ctx.font = "28px 'Liberation Serif', serif";
          ctx.fillText(PAGE_NUMBER, 627, 136);
        }
      }
      ctx.restore();
    },
  };
}

const tickFont = { family: FONT, size: 19 };
const zeroPad = (ax: any) => { ax.paddingTop = 0; ax.paddingBottom = 0; ax.paddingLeft = 0; ax.paddingRight = 0; };

function upperConfig(p: any, i: number): any {
  return {
    type: 'line',
    data: { datasets: [series(LEGEND_UPPER[0], p.red, RED, 3), series(LEGEND_UPPER[1], p.green, GREEN, 2), series(LEGEND_UPPER[2], SIGNAL, BLUE, 1)] },
    options: {
      responsive: false, animation: false, devicePixelRatio: 1, events: [],
      layout: { padding: { left: 0, right: CANVAS_W - PLOT_RIGHT, top: UPPER_TOP, bottom: UPPER_H - UPPER_BOTTOM } },
      plugins: { legend: { display: false }, tooltip: { enabled: false } },
      scales: {
        x: { type: 'logarithmic', min: X_MIN, max: X_MAX, display: false },
        y: {
          type: 'linear', min: -1.25, max: 1.25,
          afterBuildTicks: (ax: any) => { ax.ticks = UPPER_Y_TICKS.map((v) => ({ value: v })); },
          afterFit: (ax: any) => { ax.width = PLOT_LEFT; zeroPad(ax); },
          ticks: { callback: (v: number) => UPPER_Y_LABELS[UPPER_Y_TICKS.indexOf(v)] ?? '', font: tickFont, color: '#000', padding: 18, autoSkip: false },
          grid: { display: false, drawTicks: false }, border: { display: false },
          title: { display: true, text: 'log(S/N)', color: '#000', font: { family: FONT, size: 20, style: 'italic' }, padding: { top: 30, bottom: 0 } },
        },
      },
    },
    plugins: [makeFrame('upper', i)],
  };
}

function lowerConfig(p: any, i: number): any {
  return {
    type: 'line',
    data: { datasets: [series('Bayesian error', p.redErr, RED, 3), series('Classical error', p.greenErr, GREEN, 2), series(SIGMA_LABEL, p.sigma, BLUE, 1)] },
    options: {
      responsive: false, animation: false, devicePixelRatio: 1, events: [],
      layout: { padding: { left: 0, right: CANVAS_W - PLOT_RIGHT, top: UPPER_BOTTOM - LOWER_OFF, bottom: 0 } },
      plugins: { legend: { display: false }, tooltip: { enabled: false } },
      scales: {
        x: {
          type: 'logarithmic', min: X_MIN, max: X_MAX, position: 'bottom',
          afterBuildTicks: (ax: any) => { ax.ticks = X_TICKS.map((v) => ({ value: v })); },
          afterFit: (ax: any) => { ax.height = LOWER_H - (LOWER_BOTTOM - LOWER_OFF); zeroPad(ax); },
          ticks: { callback: (v: number) => X_TICK_LABELS[X_TICKS.indexOf(v)] ?? '', font: tickFont, color: '#000', padding: 17, autoSkip: false, maxRotation: 0 },
          grid: { display: false, drawTicks: false }, border: { display: false },
          title: { display: true, text: 'Fourier coefficient', color: '#000', font: { family: FONT, size: 20 }, padding: { top: 0, bottom: 9 } },
        },
        y: {
          type: 'logarithmic', min: 0.001, max: 1,
          afterBuildTicks: (ax: any) => { ax.ticks = LOWER_Y_TICKS.map((v) => ({ value: v })); },
          afterFit: (ax: any) => { ax.width = PLOT_LEFT; zeroPad(ax); },
          ticks: { callback: (v: number) => LOWER_Y_LABELS[LOWER_Y_TICKS.indexOf(v)] ?? '', font: tickFont, color: '#000', padding: 18, autoSkip: false },
          grid: { display: false, drawTicks: false }, border: { display: false },
          title: { display: true, text: 'absolute error', color: '#000', font: { family: FONT, size: 20 }, padding: { top: 9.5, bottom: 0 } },
        },
      },
    },
    plugins: [makeFrame('lower', i)],
  };
}

export default function App() {
  const canvases = useRef<(HTMLCanvasElement | null)[]>([]);
  useEffect(() => {
    const charts: Chart[] = [];
    PANELS.forEach((p, i) => {
      const cu = canvases.current[2 * i];
      const cl = canvases.current[2 * i + 1];
      if (cu) charts.push(new Chart(cu, upperConfig(p, i)));
      if (cl) charts.push(new Chart(cl, lowerConfig(p, i)));
    });
    return () => charts.forEach((c) => c.destroy());
  }, []);

  return (
    <div style={{ position: 'absolute', left: 0, top: 0, width: 843, height: 1675, overflow: 'hidden', background: '#fff' }}>
      {PANELS.map((p, i) => (
        <React.Fragment key={i}>
          <canvas
            ref={(el) => { canvases.current[2 * i] = el; }}
            width={CANVAS_W} height={UPPER_H}
            style={{ position: 'absolute', left: 0, top: p.top, width: CANVAS_W, height: UPPER_H }}
          />
          <canvas
            ref={(el) => { canvases.current[2 * i + 1] = el; }}
            width={CANVAS_W} height={LOWER_H}
            style={{ position: 'absolute', left: 0, top: p.top + LOWER_OFF, width: CANVAS_W, height: LOWER_H }}
          />
        </React.Fragment>
      ))}
    </div>
  );
}
